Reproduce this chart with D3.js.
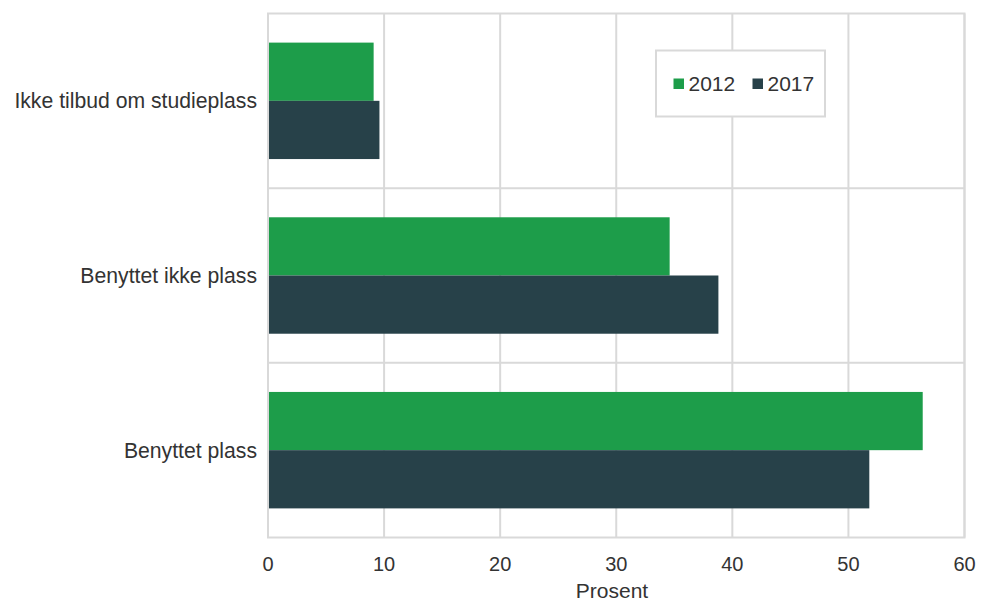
<!DOCTYPE html>
<html><head><meta charset="utf-8">
<script src="https://cdn.jsdelivr.net/npm/d3@7"></script>
<style>
body{margin:0;background:#fff;}
text{font-family:"Liberation Sans",Arial,sans-serif;fill:#333;}
</style></head>
<body><svg id="c" width="982" height="602"></svg>
<script>
const categories = ["Ikke tilbud om studieplass", "Benyttet ikke plass", "Benyttet plass"];
const seriesNames = ["2012", "2017"];
const values2012 = [9.1, 34.6, 56.4];
const values2017 = [9.6, 38.8, 51.8];
const xTicks = [0, 10, 20, 30, 40, 50, 60];
const xTitle = "Prosent";
const colors = ["#1d9d4a", "#274149"];

const svg = d3.select("#c");
const L = 268, R = 964.5, T = 13.5, B = 537.5;
const x = d3.scaleLinear().domain([0, 60]).range([L, R]);
const y = d3.scaleBand().domain(categories).range([T, B]).padding(0);
const ys = d3.scaleBand().domain(seriesNames).range([0, y.bandwidth()]).paddingInner(0).paddingOuter(0.5);
const grid = "#d9d9d9";

svg.append("g").selectAll("line").data(xTicks).join("line")
  .attr("x1", d => x(d)).attr("x2", d => x(d)).attr("y1", T).attr("y2", B)
  .attr("stroke", grid).attr("stroke-width", 2);
svg.append("g").selectAll("line").data(categories.slice(1)).join("line")
  .attr("x1", L).attr("x2", R).attr("y1", d => y(d)).attr("y2", d => y(d))
  .attr("stroke", grid).attr("stroke-width", 2);
svg.append("rect").attr("x", L).attr("y", T).attr("width", R - L).attr("height", B - T)
  .attr("fill", "none").attr("stroke", grid).attr("stroke-width", 2);

const data = [values2012, values2017];
seriesNames.forEach((s, si) => {
  svg.append("g").selectAll("rect").data(categories).join("rect")
    .attr("x", x(0) + 1)
    .attr("y", c => y(c) + ys(s))
    .attr("width", (c, i) => x(data[si][i]) - x(0) - 1)
    .attr("height", ys.bandwidth())
    .attr("fill", colors[si]);
});

svg.append("g").selectAll("text").data(categories).join("text")
  .attr("x", 257).attr("y", c => y(c) + y.bandwidth() / 2)
  .attr("text-anchor", "end").attr("dominant-baseline", "central")
  .attr("font-size", 21.2).text(c => c);

svg.append("g").selectAll("text").data(xTicks).join("text")
  .attr("x", d => x(d)).attr("y", 571)
  .attr("text-anchor", "middle").attr("font-size", 20).text(d => d);

svg.append("text").attr("x", 612).attr("y", 598)
  .attr("text-anchor", "middle").attr("font-size", 21).text(xTitle);

const lg = svg.append("g");
lg.append("rect").attr("x", 656).attr("y", 50.5).attr("width", 169).attr("height", 66)
  .attr("fill", "#fff").attr("stroke", grid).attr("stroke-width", 2);
const lx = [673.5, 752.5];
seriesNames.forEach((s, i) => {
  lg.append("rect").attr("x", lx[i]).attr("y", 78.5).attr("width", 10.5).attr("height", 10.5).attr("fill", colors[i]);
  lg.append("text").attr("x", lx[i] + 15).attr("y", 91).attr("font-size", 21).text(s);
});
</script></body></html>
